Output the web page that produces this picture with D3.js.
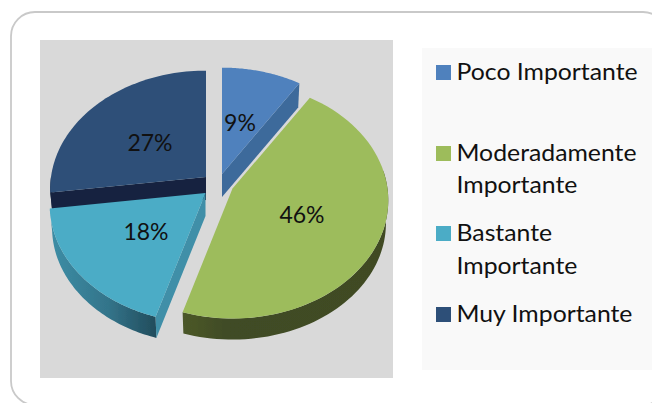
<!DOCTYPE html>
<html><head><meta charset="utf-8">
<script src="https://cdn.jsdelivr.net/npm/d3@7/dist/d3.min.js"></script>
<style>html,body{margin:0;padding:0;background:#fff;overflow:hidden}svg{display:block}text{font-family:Lato,"Open Sans",sans-serif;fill:#111}</style>
</head><body><svg id="c" width="652" height="403"></svg>
<script>
const categories = ["Poco Importante","Moderadamente Importante","Bastante Importante","Muy Importante"];
const legendLines = [["Poco Importante"],["Moderadamente","Importante"],["Bastante","Importante"],["Muy Importante"]];
const shares = [9.1,45.6,18.2,27.1];
const colors = ["#4f81bd","#9dbc5b","#4bacc6","#2d4f78"];
const edgeColors = ["#3d6a9b","#414c25","#3f8fa8","#17243f"];
const apexX = [222,232.5,205.5,206];
const apexY = [174,188.5,193,177];
const legendMarkerY = [65,146,226,307];
const legendBaselines = [[80],[161,193],[241,274],[322]];
const labelX = [240,302,146,150];
const labelY = [131,223,240,151];

const svg = d3.select("#c");
const defs = svg.append("defs");
const g1 = defs.append("linearGradient").attr("id","wallLight").attr("x1",0).attr("x2",1).attr("y1",0).attr("y2",0);
g1.append("stop").attr("offset","0").attr("stop-color","#3d8ea6");
g1.append("stop").attr("offset","0.55").attr("stop-color","#33748a");
g1.append("stop").attr("offset","1").attr("stop-color","#224c5c");
const g2 = defs.append("linearGradient").attr("id","wallGreen").attr("x1",0).attr("x2",1).attr("y1",0).attr("y2",0);
g2.append("stop").attr("offset","0").attr("stop-color","#4b5829");
g2.append("stop").attr("offset","0.2").attr("stop-color","#414c25");
g2.append("stop").attr("offset","1").attr("stop-color","#3f4a24");
defs.append("filter").attr("id","soft").append("feGaussianBlur").attr("stdDeviation",0.35);

// card + panels
svg.append("rect").attr("x",11).attr("y",12).attr("width",656).attr("height",393).attr("rx",24)
  .attr("fill","#fff").attr("stroke","#c9c9c9").attr("stroke-width",1.8);
svg.append("rect").attr("x",40).attr("y",40).attr("width",353).attr("height",338).attr("fill","#d9d9d9");
svg.append("rect").attr("x",422).attr("y",48).attr("width",230).attr("height",322).attr("fill","#f9f9f9");

// perspective projection of the pie disc
const A = 155, B = 117, K = 0.1, DEPTH = 23;
const project = (t, ax, ay, dep = 0) => {
  const w = 1 + K * Math.cos(t);
  const s = dep ? 0.985 : 1;
  return [ax + s * A * Math.sin(t) / w, ay + dep - s * B * Math.cos(t) / w];
};
const arcs = d3.pie().sort(null).value(d => d)(shares);
const line = d3.line();
const arcPts = (a0, a1, ax, ay, dep) => d3.range(0, 61).map(i => project(a0 + (a1 - a0) * i / 60, ax, ay, dep));
const order = [3,0,1,2];
const layer = svg.append("g").attr("filter", "url(#soft)");
order.forEach(i => {
  const a = arcs[i], ax = apexX[i], ay = apexY[i];
  const g = layer.append("g");
  // outer wall
  const v0 = Math.max(a.startAngle, Math.PI * 0.45), v1 = Math.min(a.endAngle, Math.PI * 1.5);
  if (v1 > v0) {
    const top = arcPts(v0, v1, ax, ay, 0), bot = arcPts(v0, v1, ax, ay, DEPTH).reverse();
    g.append("path").attr("d", line(top.concat(bot)) + "Z")
      .attr("fill", i === 2 ? "url(#wallLight)" : i === 1 ? "url(#wallGreen)" : edgeColors[i]);
  }
  // radial cut face
  if (i !== 1) {
    const cutAngle = i === 0 ? a.endAngle : a.startAngle;
    const e = project(cutAngle, ax, ay, 0), f = project(cutAngle, ax, ay, DEPTH);
    g.append("path").attr("d", line([[ax,ay], e, f, [ax, ay + DEPTH]]) + "Z").attr("fill", edgeColors[i]);
  }
  // top face
  g.append("path").attr("d", line([[ax,ay]].concat(arcPts(a.startAngle, a.endAngle, ax, ay, 0))) + "Z")
    .attr("fill", colors[i]);
});
// labels
svg.selectAll("text.pct").data(shares).join("text").attr("class","pct")
  .attr("x",(d,i)=>labelX[i]).attr("y",(d,i)=>labelY[i]).attr("text-anchor","middle")
  .attr("font-size",23).text(d => Math.round(d) + "%");
// legend
categories.forEach((c,i) => {
  svg.append("rect").attr("x",436).attr("y",legendMarkerY[i]).attr("width",15).attr("height",15).attr("fill",colors[i]);
  legendLines[i].forEach((t,j) => {
    svg.append("text").attr("transform",`translate(456.5,${legendBaselines[i][j]}) scale(1.055,1)`).attr("font-size",23.5).text(t);
  });
});
</script></body></html>
